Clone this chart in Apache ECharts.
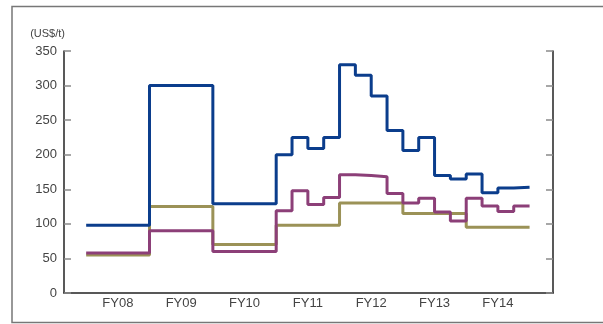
<!DOCTYPE html>
<html>
<head>
<meta charset="utf-8">
<script src="https://cdn.jsdelivr.net/npm/echarts@6/dist/echarts.min.js"></script>
<style>
  html, body { margin: 0; padding: 0; background: #fff; }
  #chart { width: 603px; height: 324px; }
</style>
</head>
<body>
<div id="chart"></div>
<script>
// Fiscal years shown along the x axis
const fiscalYears = ['FY08', 'FY09', 'FY10', 'FY11', 'FY12', 'FY13', 'FY14'];

// Quarterly prices (US$/t), FY08 Q1 through FY14 Q4
const bluePrices = [
  98, 98, 98, 98,
  300, 300, 300, 300,
  129, 129, 129, 129,
  200, 225, 209, 225,
  330, 315, 285, 235,
  206, 225, 170, 165,
  172, 145, 152, 153
];
const purplePrices = [
  58, 58, 58, 58,
  90, 90, 90, 90,
  60, 60, 60, 60,
  119, 148, 128, 138,
  171, 170, 168, 144,
  130, 137, 117, 104,
  137, 126, 118, 126
];
const olivePrices = [
  55, 55, 55, 55,
  125, 125, 125, 125,
  70, 70, 70, 70,
  98, 98, 98, 98,
  130, 130, 130, 130,
  115, 115, 115, 115,
  95, 95, 95, 95
];

// Y axis tick values
const yTicks = [0, 50, 100, 150, 200, 250, 300, 350];

// Each quarter starts at year index + q/4; the last value is held to the end of FY14.
function toSteps(values) {
  const pts = values.map((v, i) => [i / 4, v]);
  pts.push([values.length / 4, values[values.length - 1]]);
  return pts;
}

const labelFont = { fontFamily: 'Liberation Sans', fontSize: 13, color: '#444' };

const chart = echarts.init(document.getElementById('chart'), null, { renderer: 'canvas' });

const lineSeries = (name, values, color) => ({
  name,
  type: 'line',
  step: 'end',
  data: toSteps(values),
  showSymbol: false,
  symbol: 'none',
  lineStyle: { color, width: 3 },
  itemStyle: { color },
  z: 3
});

const yAxisBase = {
  type: 'value',
  min: 0,
  max: 350,
  interval: 50,
  axisLine: { show: true, onZero: false, lineStyle: { color: '#222', width: 1.5 } },
  axisTick: { show: true, inside: true, length: 7, lineStyle: { color: '#8a8a8a', width: 1.5 } },
  splitLine: { show: false }
};

chart.setOption({
  animation: false,
  backgroundColor: '#fff',
  grid: { left: 64, right: 50, top: 51, bottom: 31, containLabel: false },
  graphic: [{
    type: 'rect',
    shape: { x: 12, y: 6.5, width: 700, height: 316 },
    style: { fill: 'none', stroke: '#777', lineWidth: 1.5 },
    silent: true,
    z: 0
  }],
  xAxis: {
    type: 'value',
    min: -0.35,
    max: 7.37,
    axisLine: { show: true, onZero: false, lineStyle: { color: '#222', width: 1.5 } },
    axisTick: { show: false },
    splitLine: { show: false },
    axisLabel: {
      ...labelFont,
      margin: 4,
      customValues: fiscalYears.map((_, i) => i + 0.5),
      formatter: v => fiscalYears[Math.round(v - 0.5)] ?? ''
    }
  },
  yAxis: [{
    ...yAxisBase,
    position: 'left',
    name: '(US$/t)',
    nameLocation: 'end',
    nameGap: 12,
    nameTextStyle: { fontFamily: 'Liberation Sans', fontSize: 11, color: '#444', align: 'right', padding: [0, -1, 0, 0] },
    axisLabel: {
      ...labelFont,
      margin: 7,
      customValues: yTicks
    }
  }, {
    ...yAxisBase,
    position: 'right',
    axisLabel: { show: false }
  }],
  series: [
    lineSeries('olive', olivePrices, '#9b9257'),
    lineSeries('purple', purplePrices, '#8c3f78'),
    lineSeries('blue', bluePrices, '#0b3d8c')
  ]
});
</script>
</body>
</html>
